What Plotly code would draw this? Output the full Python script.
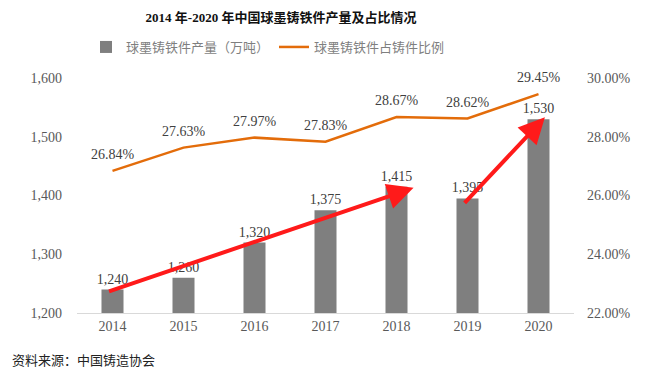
import plotly.graph_objects as go

years = ["2014", "2015", "2016", "2017", "2018", "2019", "2020"]
output = [1240, 1260, 1320, 1375, 1415, 1395, 1530]
share = [26.84, 27.63, 27.97, 27.83, 28.67, 28.62, 29.45]
left_ticks = [1200, 1300, 1400, 1500, 1600]
right_ticks = [22, 24, 26, 28, 30]

FONT = "Liberation Serif, Noto Sans CJK SC, serif"
CJK = "Liberation Serif, Noto Sans CJK SC, sans-serif"

fig = go.Figure()
fig.add_trace(go.Bar(
    x=years, y=output, name="球墨铸铁件产量（万吨）",
    marker=dict(color="#7f7f7f", line=dict(width=0)),
    width=0.31,
    text=[f"{v:,}" for v in output], textposition="outside",
    constraintext="none",
    textfont=dict(family=FONT, size=14, color="#404040"),
    cliponaxis=False,
))
fig.add_trace(go.Scatter(
    x=years, y=share, name="球墨铸铁件占铸件比例", yaxis="y2",
    mode="lines",
    line=dict(color="#e36c0a", width=2.5),
    cliponaxis=False,
))
fig.add_trace(go.Scatter(
    x=years, y=share, yaxis="y2", showlegend=False, hoverinfo="skip",
    mode="markers+text",
    marker=dict(size=12, opacity=0, color="#e36c0a"),
    text=[f"{v:.2f}%" for v in share], textposition="top center",
    textfont=dict(family=FONT, size=14, color="#404040"),
    cliponaxis=False,
))

# red trend arrows (tail -> head in data coordinates)
arrows = [((-0.07, 1236), (4.24, 1413)), ((4.94, 1385), (6.09, 1533))]
for (x0, y0), (x1, y1) in arrows:
    fig.add_annotation(
        x=x1, y=y1, ax=x0, ay=y0, xref="x", yref="y", axref="x", ayref="y",
        showarrow=True, arrowhead=2, arrowsize=1.3, arrowwidth=4,
        arrowcolor="#ff1a1a", standoff=0, text="",
    )

fig.add_annotation(
    text="资料来源：中国铸造协会", xref="paper", yref="paper",
    x=-0.135, y=-0.2, xanchor="left", yanchor="middle", showarrow=False,
    font=dict(family=CJK, size=13, color="#222222"),
)

fig.update_layout(
    width=645, height=379,
    margin=dict(l=77, r=71, t=78, b=66, autoexpand=False),
    paper_bgcolor="white", plot_bgcolor="white",
    title=dict(text="<b>2014 年-2020 年中国球墨铸铁件产量及占比情况</b>",
               x=281 / 645, xanchor="center", xref="container",
               y=1 - 17 / 379, yanchor="middle", yref="container",
               font=dict(family=CJK, size=13, color="#111111")),
    legend=dict(orientation="h", x=268 / 645, xanchor="center", xref="container",
                y=1 - 47 / 379, yanchor="middle", yref="container",
                font=dict(family=CJK, size=13, color="#7f7f7f"),
                itemwidth=30, traceorder="normal"),
    showlegend=True,
    bargap=0.69,
    xaxis=dict(type="category", showline=True, linecolor="#d9d9d9", linewidth=1,
               showgrid=False, ticks="", automargin=False,
               tickfont=dict(family=FONT, size=14, color="#595959")),
    yaxis=dict(range=[1200, 1600], tickvals=left_ticks, tickformat=",",
               showgrid=False, zeroline=False, showline=False, ticks="", automargin=False,
               tickfont=dict(family=FONT, size=14, color="#595959"), ticklabelstandoff=14),
    yaxis2=dict(range=[22, 30], tickvals=right_ticks,
                ticktext=[f"{v:.2f}%" for v in right_ticks],
                overlaying="y", side="right", showgrid=False, zeroline=False,
                showline=False, ticks="", automargin=False,
                tickfont=dict(family=FONT, size=14, color="#595959"), ticklabelstandoff=12),
)

fig.write_html("out.html", config={"displayModeBar": False},
               post_script="document.body.style.margin='0';")
